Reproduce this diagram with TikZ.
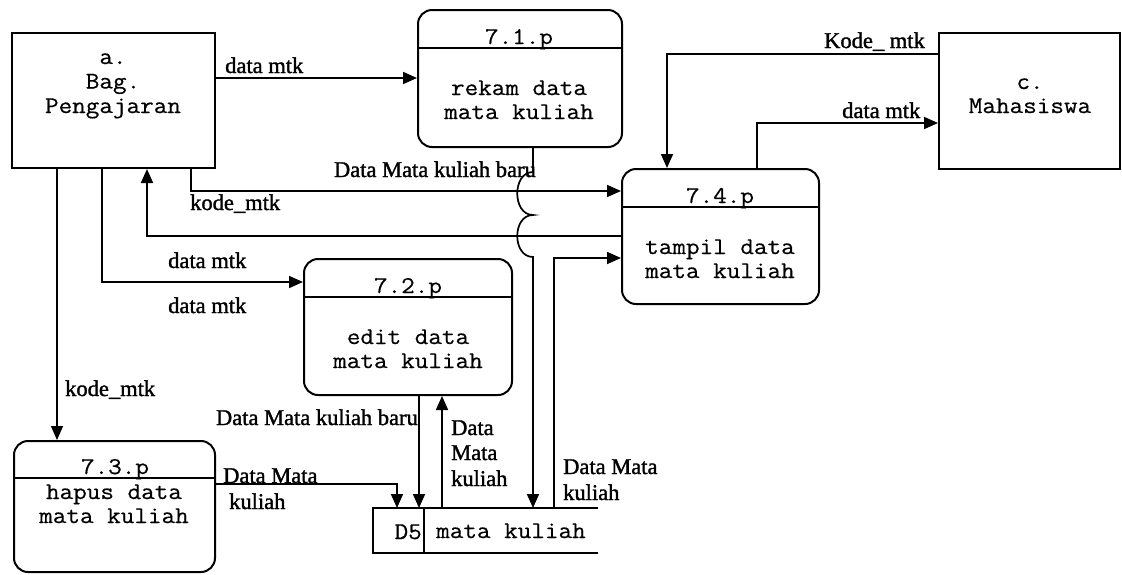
\documentclass[tikz,border=0pt]{standalone}
\usepackage{fontspec}
\setmainfont{Liberation Serif}
\setmonofont{Latin Modern Mono}[FakeStretch=1.1, FakeBold=0.5]
\newfontfamily\lblfont{Liberation Serif}[FakeBold=1.4]
\usetikzlibrary{arrows.meta}

\tikzset{
  entity/.style={draw, line width=2pt, inner sep=0pt, anchor=north west},
  procbox/.style={draw, line width=2pt, rounded corners=14pt, inner sep=0pt, anchor=north west},
  boxline/.style={line width=2pt},
  mono/.style={font=\ttfamily\fontsize{24}{24}\selectfont, inner sep=0pt, anchor=base},
  lbl/.style={font=\lblfont\fontsize{22.5}{26}\selectfont, inner sep=0pt, anchor=base west},
  flow/.style={line width=1.7pt, -{Triangle[length=14pt,width=12pt]}},
}

\begin{document}
\begin{tikzpicture}[x=1pt, y=-1pt]
\useasboundingbox (0,0) rectangle (1122,574);

% external entities
\node[entity, minimum width=203pt, minimum height=135pt] (a) at (11,32) {};
\node[mono] (a1) at (113,64) {a.};
\node[mono] (a2) at (113,88.5) {Bag.};
\node[mono] (a3) at (113,113) {Pengajaran};

\node[entity, minimum width=181pt, minimum height=136pt] (c) at (938,32) {};
\node[mono] (c1) at (1030,89) {c.};
\node[mono] (c2) at (1030,113) {Mahasiswa};

% processes
\node[procbox, minimum width=204pt, minimum height=137pt] (p71) at (417,9) {};
\draw[boxline] ([yshift=-39pt]p71.north west) -- ([yshift=-39pt]p71.north east);
\node[mono] (p71id) at (519,44) {7.1.p};
\node[mono] (p71a) at (519,95) {rekam data};
\node[mono] (p71b) at (519,119) {mata kuliah};

\node[procbox, minimum width=208pt, minimum height=136pt] (p72) at (303,258) {};
\draw[boxline] ([yshift=-39pt]p72.north west) -- ([yshift=-39pt]p72.north east);
\node[mono] (p72id) at (408,293) {7.2.p};
\node[mono] (p72a) at (408,344) {edit data};
\node[mono] (p72b) at (408,368) {mata kuliah};

\node[procbox, minimum width=201pt, minimum height=131pt] (p73) at (13,440) {};
\draw[boxline] ([yshift=-38pt]p73.north west) -- ([yshift=-38pt]p73.north east);
\node[mono] (p73id) at (115,474) {7.3.p};
\node[mono] (p73a) at (114,499) {hapus data};
\node[mono] (p73b) at (114,523) {mata kuliah};

\node[procbox, minimum width=197pt, minimum height=135pt] (p74) at (621,168) {};
\draw[boxline] ([yshift=-39pt]p74.north west) -- ([yshift=-39pt]p74.north east);
\node[mono] (p74id) at (720,203) {7.4.p};
\node[mono] (p74a) at (720,254) {tampil data};
\node[mono] (p74b) at (720,278) {mata kuliah};

% data store
\node[inner sep=0pt, minimum width=225pt, minimum height=45pt, anchor=north west] (d5) at (373,508) {};
\draw[boxline] (d5.north east) -- (d5.north west) -- (d5.south west) -- (d5.south east);
\coordinate (dv) at (424,0);
\draw[boxline] (d5.north -| dv) -- (d5.south -| dv);
\node[mono, anchor=base east] (d5id) at (422,539) {D5};
\node[mono, anchor=base west] (d5name) at (436,538) {mata kuliah};

% bend points of the flows
\coordinate (r1) at (0,78);
\coordinate (r2) at (191,191);
\coordinate (r3) at (147,236);
\coordinate (r4) at (102,282);
\coordinate (r5) at (57,0);
\coordinate (r6) at (533,0);
\coordinate (r7) at (419,0);
\coordinate (r8) at (442,0);
\coordinate (r9) at (397,484);
\coordinate (r10) at (554,258);
\coordinate (r11) at (667,54);
\coordinate (r12) at (757,123);

% data flows
\draw[flow] (a.east |- r1) -- (p71.west |- r1);
\draw[flow] (a.south -| r2) |- (p74.west |- r2);
\draw[flow] (p74.west |- r3) -| (a.south -| r3);
\draw[flow] (a.south -| r4) |- (p72.west |- r4);
\draw[flow, line width=1.3pt] (a.south -| r5) -- (p73.north -| r5);
\draw[flow] (p71.south -| r6) -- (533,172)
  .. controls (512,172) and (512,215) .. (533,215)
  .. controls (512,215) and (512,257) .. (533,257)
  -- (d5.north -| r6);
\draw[flow] (p72.south -| r7) -- (d5.north -| r7);
\draw[flow] (d5.north -| r8) -- (p72.south -| r8);
\draw[flow] (p73.east |- r9) -| (d5.north -| r9);
\draw[flow] (d5.north -| r10) |- (p74.west |- r10);
\draw[flow] (c.west |- r11) -| (p74.north -| r11);
\draw[flow] (p74.north -| r12) |- (c.west |- r12);

% flow labels
\node[lbl] (l1) at (225,73) {data mtk};
\node[lbl, anchor=base east] (l2) at (536,177) {Data Mata kuliah baru};
\node[lbl] (l3) at (190,210) {kode\_mtk};
\node[lbl] (l4) at (168,268) {data mtk};
\node[lbl] (l5) at (168,313) {data mtk};
\node[lbl] (l6) at (65,396) {kode\_mtk};
\node[lbl, anchor=base east] (l7) at (418,425) {Data Mata kuliah baru};
\node[lbl] (l8a) at (451,435) {Data};
\node[lbl] (l8b) at (451,460) {Mata};
\node[lbl] (l8c) at (451,486) {kuliah};
\node[lbl] (l9a) at (223,483) {Data Mata};
\node[lbl] (l9b) at (229,509) {kuliah};
\node[lbl] (l10a) at (563,474) {Data Mata};
\node[lbl] (l10b) at (563,500) {kuliah};
\node[lbl] (l11) at (824,48) {Kode\_ mtk};
\node[lbl] (l12) at (842,118) {data mtk};
\end{tikzpicture}
\end{document}
